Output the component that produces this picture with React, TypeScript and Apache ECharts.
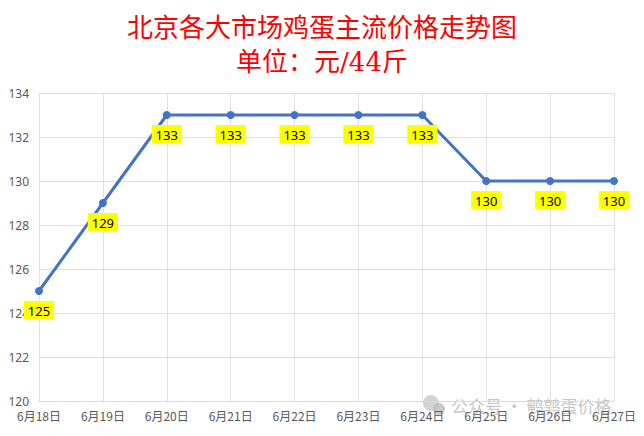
import React, { useEffect, useRef } from "react";
import * as echarts from "echarts";

const categories = ["6月18日", "6月19日", "6月20日", "6月21日", "6月22日", "6月23日", "6月24日", "6月25日", "6月26日", "6月27日"];
const prices = [125, 129, 133, 133, 133, 133, 133, 130, 130, 130];
const titleLine1 = "北京各大市场鸡蛋主流价格走势图";
const titleLine2 = "单位：元/44斤";
const watermark = "公众号 · 鹌鹑蛋价格";

export default function App() {
  const ref = useRef<HTMLDivElement>(null);
  useEffect(() => {
    const chart = echarts.init(ref.current!, null, { renderer: "svg" });
    chart.setOption({
      animation: false,
      backgroundColor: "#ffffff",
      title: {
        text: titleLine1 + "\n" + titleLine2,
        left: "center",
        top: 6,
        textStyle: {
          color: "#FF0000",
          fontSize: 26,
          fontWeight: "normal",
          fontFamily: "'DejaVu Serif', 'Noto Sans CJK SC'",
          lineHeight: 34,
        },
      },
      grid: { left: 39, right: 30, top: 93, bottom: 35, containLabel: false },
      xAxis: {
        type: "category",
        data: categories,
        boundaryGap: false,
        axisLine: { show: true, lineStyle: { color: "#d9d9d9" } },
        axisTick: { show: false },
        splitLine: { show: true, lineStyle: { color: "#e0e0e0" } },
        axisLabel: { color: "#595959", fontSize: 12, margin: 8, fontFamily: "'Noto Sans CJK SC'", interval: 0 },
      },
      yAxis: {
        type: "value",
        min: 120,
        max: 134,
        interval: 2,
        axisLine: { show: false },
        axisTick: { show: false },
        splitLine: { show: true, lineStyle: { color: "#e0e0e0" } },
        axisLabel: { color: "#595959", fontSize: 12, margin: 10, fontFamily: "'Noto Sans', sans-serif" },
      },
      series: [
        {
          type: "line",
          data: prices,
          symbol: "circle",
          symbolSize: 8,
          lineStyle: { color: "#4472C4", width: 3 },
          itemStyle: { color: "#4472C4" },
          label: {
            show: true,
            position: "bottom",
            distance: 6,
            color: "#000000",
            fontSize: 13,
            fontFamily: "'Noto Sans', sans-serif",
            backgroundColor: "#FFFF00",
            padding: [3, 4, 2, 4],
          },
        },
      ],
      graphic: [
        {
          type: "rect",
          shape: { x: 0.5, y: 0.5, width: 643, height: 435 },
          style: { fill: "none", stroke: "#bfbfbf", lineWidth: 1 },
          silent: true,
        },
        {
          type: "circle",
          shape: { cx: 431, cy: 403, r: 8 },
          style: { fill: "#c8c8c8", opacity: 0.8 },
          silent: true,
        },
        {
          type: "circle",
          shape: { cx: 439, cy: 409, r: 6 },
          style: { fill: "#bdbdbd", opacity: 0.8 },
          silent: true,
        },
        {
          type: "text",
          x: 451,
          y: 397,
          style: {
            text: watermark,
            fill: "#c0c0c0",
            fontSize: 17,
            fontFamily: "'Noto Sans CJK SC'",
            opacity: 0.9,
          },
          silent: true,
        },
      ],
    });
    return () => chart.dispose();
  }, []);
  return <div ref={ref} style={{ width: 644, height: 436, margin: -8 }} />;
}
